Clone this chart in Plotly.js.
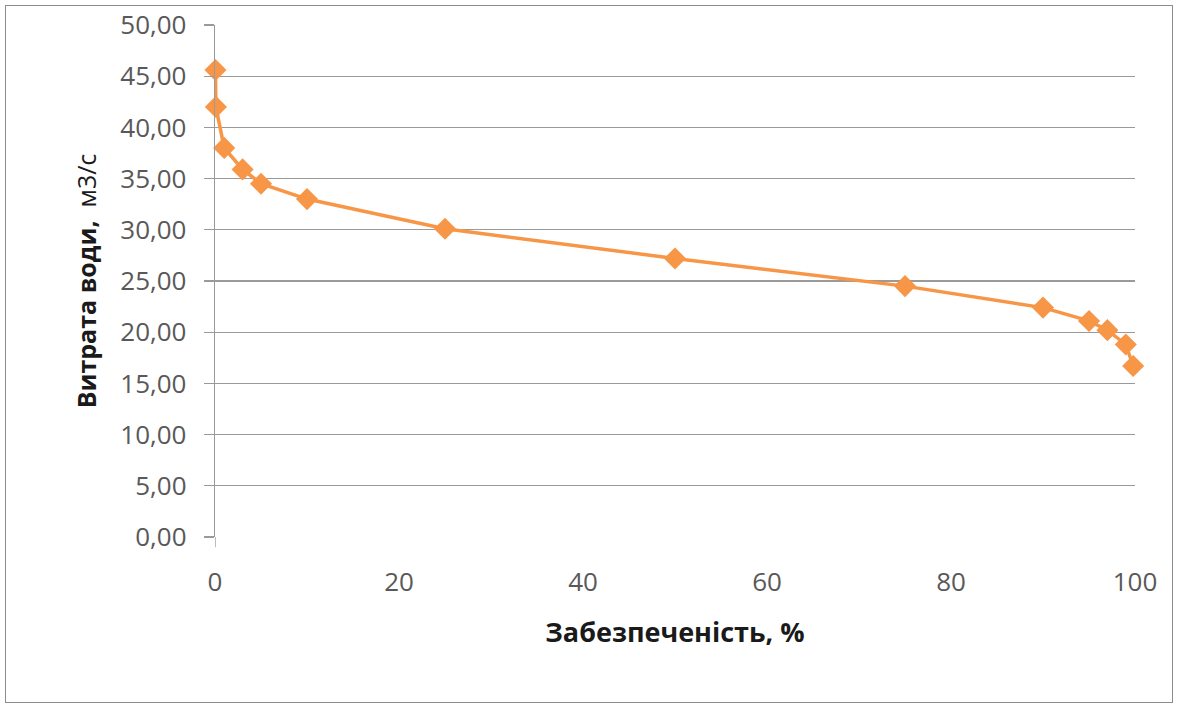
<!DOCTYPE html>
<html>
<head>
<meta charset="utf-8">
<script src="https://cdn.plot.ly/plotly-3.0.1.min.js"></script>
<style>
html,body{margin:0;padding:0;background:#fff;}
#frame{position:absolute;left:5px;top:5px;width:1166px;height:696px;border:1.5px solid #8c8c8c;}
#chart{position:absolute;left:0;top:0;width:1179px;height:706px;}
</style>
</head>
<body>
<div id="frame"></div>
<div id="chart"></div>
<script>
const supply = [0.05, 0.1, 1, 3, 5, 10, 25, 50, 75, 90, 95, 97, 99, 99.8];
const discharge = [45.6, 42.0, 38.0, 35.9, 34.5, 33.0, 30.1, 27.2, 24.5, 22.4, 21.1, 20.2, 18.8, 16.7];
const xTicks = [0, 20, 40, 60, 80, 100];
const yTicks = [0, 5, 10, 15, 20, 25, 30, 35, 40, 45, 50];
const xTitle = 'Забезпеченість, %';
const yTitleMain = 'Витрата води,';
const yTitleUnit = 'м3/с';

const orange = '#F79646';
const trace = {
  x: supply, y: discharge, type: 'scatter', mode: 'lines+markers',
  line: {color: orange, width: 3.5},
  marker: {symbol: 'diamond', size: 17, color: orange},
  cliponaxis: false,
  hoverinfo: 'skip', showlegend: false
};
const layout = {
  width: 1179, height: 706,
  paper_bgcolor: 'rgba(0,0,0,0)', plot_bgcolor: '#fff',
  margin: {l: 215, r: 44, t: 25, b: 169},
  separators: ',.',
  font: {family: 'Open Sans, Liberation Sans, sans-serif', color: '#404040'},
  xaxis: {
    range: [0, 100], tickvals: xTicks, ticktext: xTicks.map(String),
    showgrid: false, zeroline: false, showline: false, ticks: '',
    ticklabelstandoff: 27,
    tickfont: {size: 26, color: '#595959'},
    title: {text: xTitle, font: {size: 27, color: '#1a1a1a', family: 'Open Sans, sans-serif', weight: 'bold'}, standoff: 25}
  },
  yaxis: {
    range: [0, 50], tickvals: yTicks, tickformat: '.2f',
    showgrid: true, gridcolor: '#9a9a9a', gridwidth: 1.3,
    zeroline: false, showline: true, linecolor: '#9a9a9a', linewidth: 1.3,
    ticks: 'outside', ticklen: 10, tickcolor: '#9a9a9a', tickwidth: 1.3,
    ticklabelstandoff: 12,
    tickfont: {size: 26, color: '#595959'},
    title: {text: '<b>' + yTitleMain + '</b>  ' + yTitleUnit, font: {size: 25, color: '#1a1a1a', family: 'Open Sans, sans-serif'}, standoff: 16}
  },
  shapes: [{type: 'line', xref: 'x', yref: 'paper', x0: 0, x1: 0, y0: 0, y1: -0.02, line: {color: '#9a9a9a', width: 1.3}}]
};
Plotly.newPlot('chart', [trace], layout, {displayModeBar: false, staticPlot: true});
</script>
</body>
</html>
